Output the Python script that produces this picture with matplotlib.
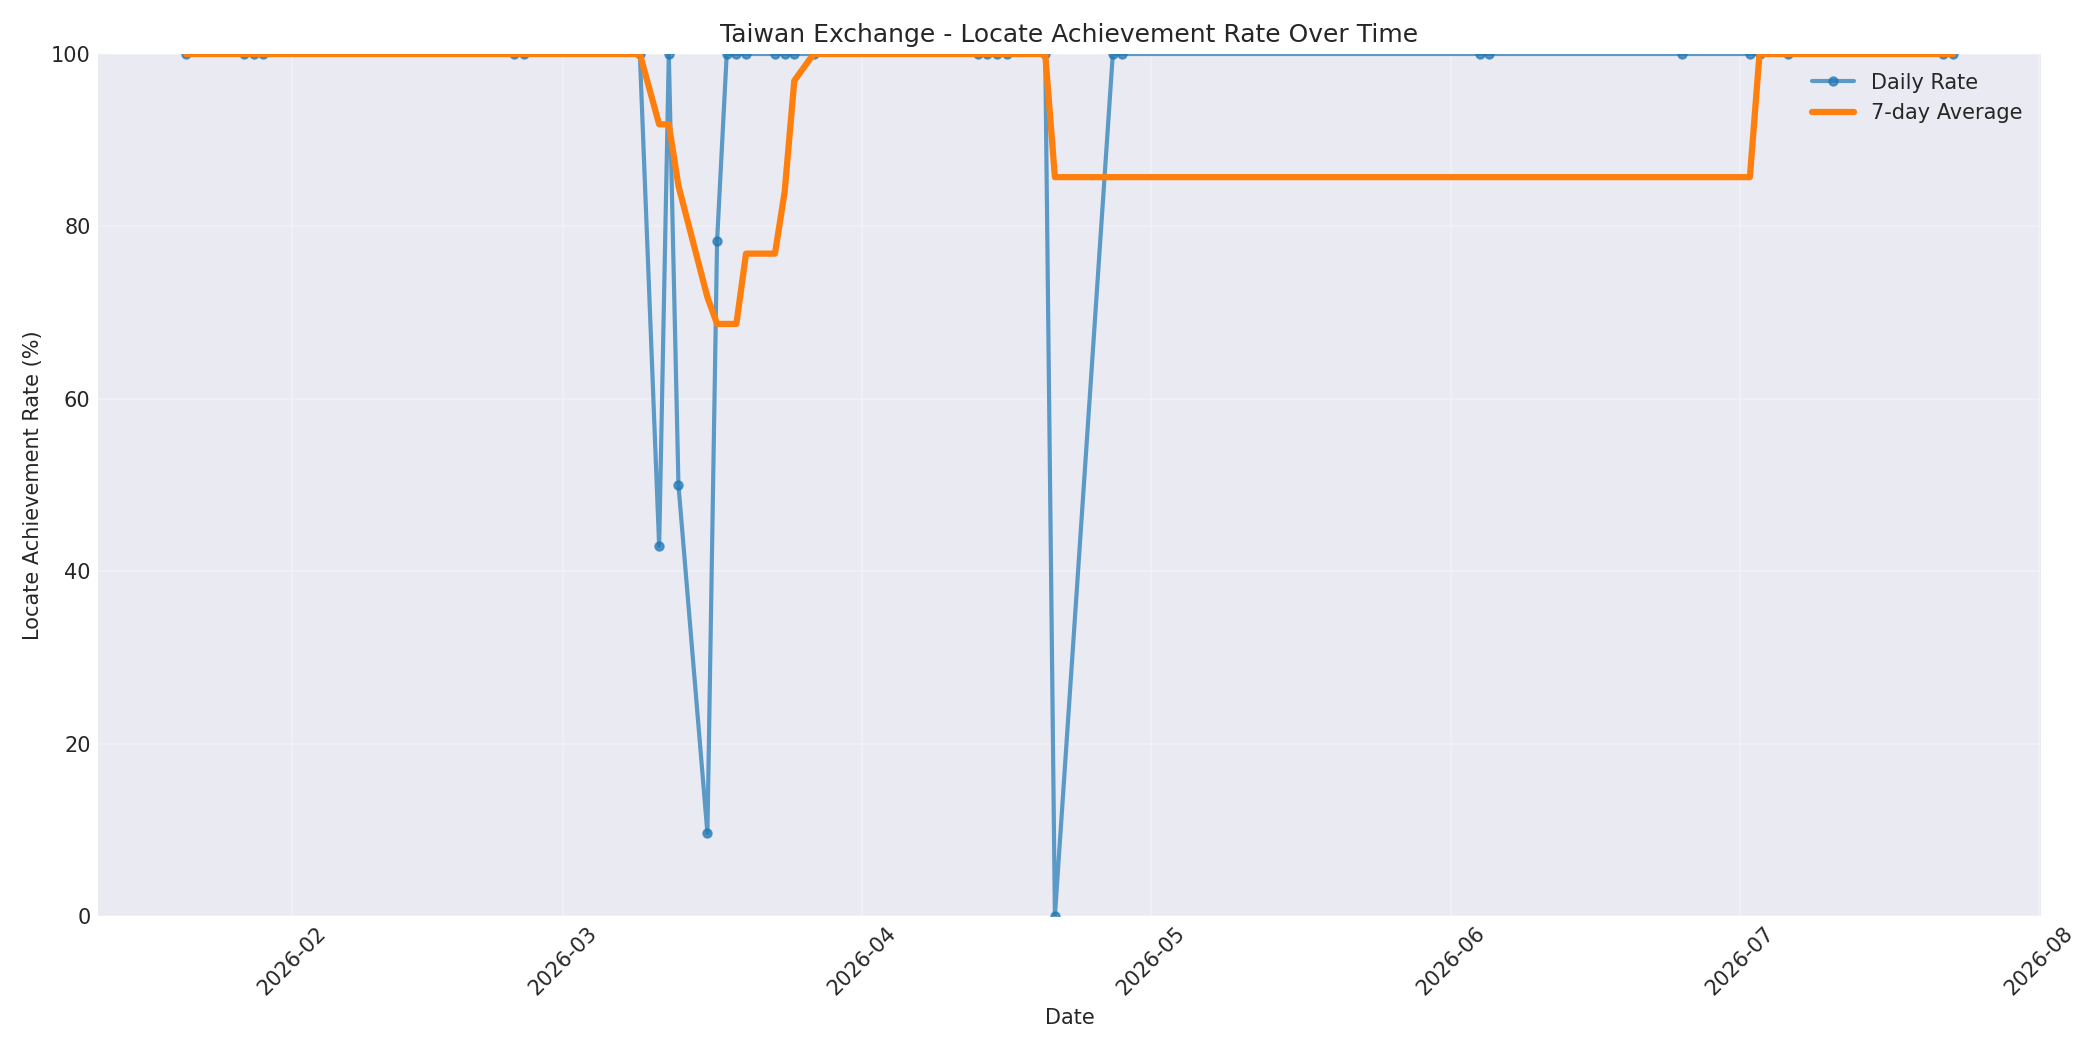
import matplotlib
matplotlib.use("Agg")
import matplotlib.pyplot as plt
import pandas as pd
import numpy as np

dates = ["2026-01-21", "2026-01-27", "2026-01-28", "2026-01-29",
         "2026-02-24", "2026-02-25",
         "2026-03-09", "2026-03-11", "2026-03-12", "2026-03-13",
         "2026-03-16", "2026-03-17", "2026-03-18", "2026-03-19", "2026-03-20",
         "2026-03-23", "2026-03-24", "2026-03-25", "2026-03-27",
         "2026-04-13", "2026-04-14", "2026-04-15", "2026-04-16",
         "2026-04-20", "2026-04-21", "2026-04-27", "2026-04-28",
         "2026-06-04", "2026-06-05", "2026-06-25",
         "2026-07-02", "2026-07-03", "2026-07-06",
         "2026-07-22", "2026-07-23"]
daily_rate = [100, 100, 100, 100,
              100, 100,
              100, 42.9, 100, 50,
              9.6, 78.3, 100, 100, 100,
              100, 100, 100, 100,
              100, 100, 100, 100,
              100, 0, 100, 100,
              100, 100, 100,
              100, 100, 100,
              100, 100]

plt.style.use("seaborn-v0_8-darkgrid")
plt.rcParams["font.family"] = ["DejaVu Sans"]

df = pd.DataFrame({"date": pd.to_datetime(dates), "rate": daily_rate})
df["avg7"] = df["rate"].rolling(7, min_periods=1).mean()

fig, ax = plt.subplots(figsize=(14, 7), dpi=150)
ax.plot(df["date"], df["rate"], marker="o", markersize=4, linewidth=2,
        color="#1f77b4", alpha=0.7, label="Daily Rate")
ax.plot(df["date"], df["avg7"], linewidth=3, color="#ff7f0e", label="7-day Average")

ax.set_title("Taiwan Exchange - Locate Achievement Rate Over Time", fontsize=12)
ax.set_xlabel("Date", fontsize=10)
ax.set_ylabel("Locate Achievement Rate (%)", fontsize=10)
ax.set_ylim(0, 100)
ax.legend(loc="upper right", fontsize=10)
ax.grid(True, alpha=0.3)
ax.tick_params(axis="both", labelsize=10)
plt.setp(ax.get_xticklabels(), rotation=45)

fig.tight_layout()
fig.savefig("out.png", dpi=150, facecolor="white")
